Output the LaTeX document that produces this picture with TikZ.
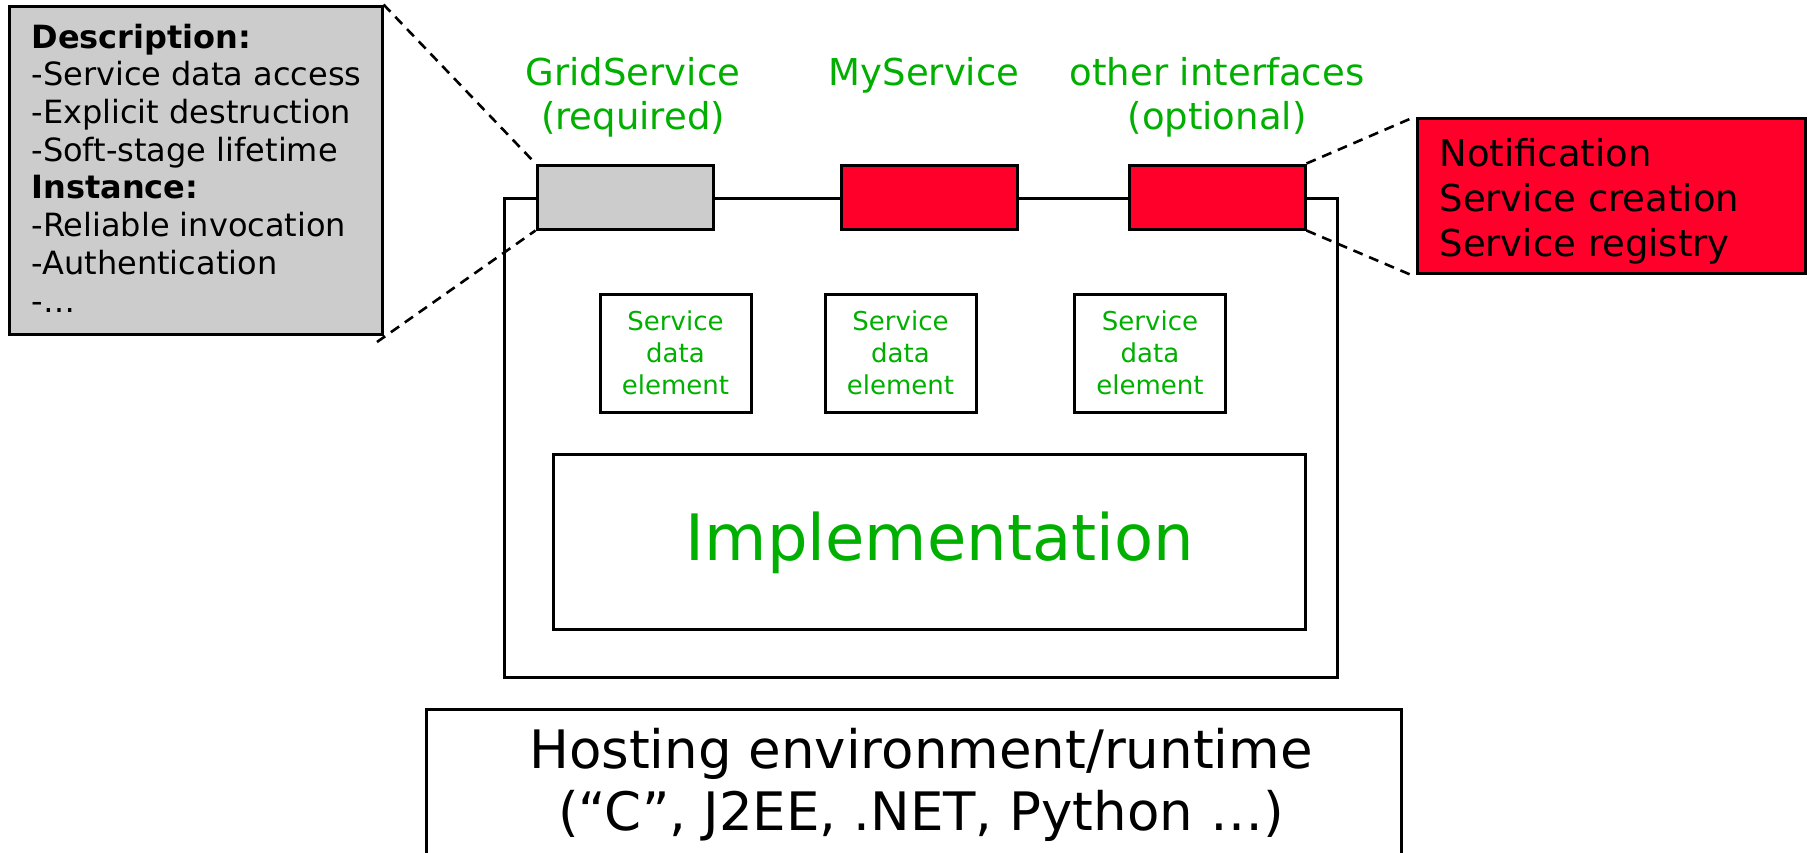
\documentclass[tikz,border=0pt]{standalone}
\usepackage{fontspec}
\setmainfont{DejaVu Sans}
\definecolor{textgreen}{RGB}{0,175,0}
\definecolor{ifred}{RGB}{255,0,42}
\definecolor{ifgray}{RGB}{204,204,204}
\begin{document}
\begin{tikzpicture}[x=1pt,y=-1pt,line width=3pt,
  box/.style={draw=black,rectangle,inner sep=0pt},
  iface/.style={box,minimum width=176pt,minimum height=64pt},
  sdebox/.style={box,minimum width=151pt,minimum height=118pt,
    text=textgreen,align=center,font=\fontsize{26}{32}\selectfont},
  zoomline/.style={dashed,dash pattern=on 10pt off 7pt,line width=2.6pt},
  glabel/.style={text=textgreen,align=center,inner sep=0pt,
    font=\fontsize{37}{44}\selectfont}]
\useasboundingbox (0,0) rectangle (1814,852);
\clip (0,0) rectangle (1814,852);
\fill[white] (0,0) rectangle (1814,852);

% service container with its interface ports
\node[box,minimum width=833pt,minimum height=479pt] (outer) at (920.5,437.5) {};
\node[iface,fill=ifgray] (grid) at (625,197) {};
\node[iface,fill=ifred] (mysvc) at (929,197) {};
\node[iface,fill=ifred] (other) at (1217,197) {};

% interface names (base = baseline of the last line)
\node[glabel,anchor=base] (gridlbl) at (633,129) {GridService\\(required)};
\node[glabel,anchor=base] (mylbl) at (924,85) {MyService};
\node[glabel,anchor=base] (otherlbl) at (1217,129) {other interfaces\\(optional)};

% service data elements
\node[sdebox] (sde1) at (675.5,353) {Service\\data\\element};
\node[sdebox] (sde2) at (900.5,353) {Service\\data\\element};
\node[sdebox] (sde3) at (1150,353) {Service\\data\\element};

% implementation
\node[box,minimum width=752pt,minimum height=175pt] (impl) at (929,541.5) {};
\node[text=textgreen,inner sep=0pt,anchor=base,font=\fontsize{64}{76}\selectfont]
  (impltext) at (940,560) {Implementation};

% hosting environment (runs past the lower edge)
\node[box,minimum width=975pt,minimum height=200pt] (host) at (913.5,809) {};
\node[inner sep=0pt,anchor=base,align=center,font=\fontsize{53}{62}\selectfont]
  (hosttext) at (921,830) {Hosting environment/runtime\\(“C”, J2EE, .NET, Python …)};

% GridService details
\node[box,fill=ifgray,minimum width=373pt,minimum height=328pt] (desc) at (195.5,170) {};
\node[inner sep=0pt,anchor=base west,align=left,font=\fontsize{32}{37.7}\selectfont]
  (desctext) at (30,312) {\textbf{Description:}\\-Service data access\\-Explicit destruction\\-Soft-stage lifetime\\\textbf{Instance:}\\-Reliable invocation\\-Authentication\\-…};

% optional interface details
\node[box,fill=ifred,minimum width=388pt,minimum height=155pt] (opt) at (1611,195.5) {};
\node[inner sep=0pt,anchor=base west,align=left,font=\fontsize{37}{45}\selectfont]
  (opttext) at (1438,256) {Notification\\Service creation\\Service registry};

% zoom-out lines
\coordinate (descbl) at (377,342);
\coordinate (optbl) at (1416,277);
\draw[zoomline] (desc.north east) -- (grid.north west);
\draw[zoomline] (descbl) -- (grid.south west);
\draw[zoomline] (other.north east) -- (opt.north west);
\draw[zoomline] (other.south east) -- (optbl);
\end{tikzpicture}
\end{document}
